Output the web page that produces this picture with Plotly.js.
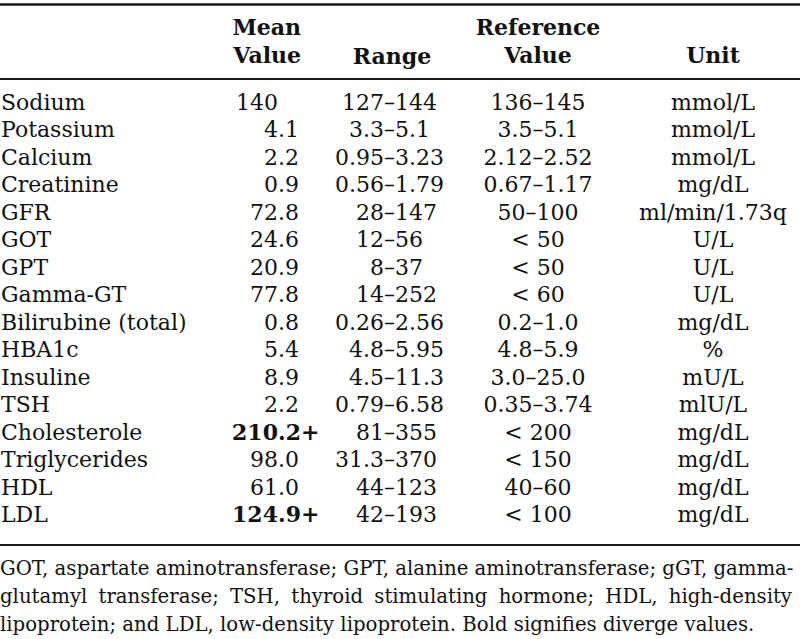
<!DOCTYPE html>
<html>
<head>
<meta charset="utf-8">
<script src="https://cdn.plot.ly/plotly-3.0.1.min.js"></script>
<style>
  html, body { margin: 0; padding: 0; background: #ffffff; }
  #chart { width: 800px; height: 639px; }
</style>
</head>
<body>
<div id="chart"></div>
<script>
// ---------------- data ----------------
const parameters = ["Sodium", "Potassium", "Calcium", "Creatinine", "GFR", "GOT", "GPT", "Gamma-GT",
  "Bilirubine (total)", "HBA1c", "Insuline", "TSH", "Cholesterole", "Triglycerides", "HDL", "LDL"];
const meanValues = ["140", "4.1", "2.2", "0.9", "72.8", "24.6", "20.9", "77.8",
  "0.8", "5.4", "8.9", "2.2", "210.2+", "98.0", "61.0", "124.9+"];
const rangeLow = ["127", "3.3", "0.95", "0.56", "28", "12", "8", "14",
  "0.26", "4.8", "4.5", "0.79", "81", "31.3", "44", "42"];
const rangeHigh = ["144", "5.1", "3.23", "1.79", "147", "56", "37", "252",
  "2.56", "5.95", "11.3", "6.58", "355", "370", "123", "193"];
const referenceValues = ["136–145", "3.5–5.1", "2.12–2.52", "0.67–1.17", "50–100", "< 50", "< 50", "< 60",
  "0.2–1.0", "4.8–5.9", "3.0–25.0", "0.35–3.74", "< 200", "< 150", "40–60", "< 100"];
const units = ["mmol/L", "mmol/L", "mmol/L", "mg/dL", "ml/min/1.73q", "U/L", "U/L", "U/L",
  "mg/dL", "%", "mU/L", "mlU/L", "mg/dL", "mg/dL", "mg/dL", "mg/dL"];
const headerLine1 = ["Mean", "Reference"];
const headerLine2 = ["Value", "Range", "Value", "Unit"];
const footnoteLines = [
  "GOT, aspartate aminotransferase; GPT, alanine aminotransferase; gGT, gamma-",
  "glutamyl transferase; TSH, thyroid stimulating hormone; HDL, high-density",
  "lipoprotein; and LDL, low-density lipoprotein. Bold signifies diverge values."
];

// ---------------- layout constants ----------------
const W = 800, H = 639;
const ROW0_PX = 104, ROW_H = 27.5;         // pixel centre of first row, row pitch
const pxToRow = p => (p - ROW0_PX) / ROW_H;
const X_LABEL = 1, X_DEC = 278, X_DASH = 395, X_REF = 538, X_UNIT = 713, X_MEAN_HDR = 301;
const FONT = "DejaVu Serif";
const FS = 22, FS_NOTE = 19.7;
const INK = "#111111";

const rows = parameters.map((_, i) => i);
const divergent = meanValues.map(v => v.endsWith("+"));
const intPart = meanValues.map(v => v.split(".")[0]);
const fracPart = meanValues.map(v => v.includes(".") ? "." + v.split(".")[1] : "");
const bold = (s, b) => b ? "<b>" + s + "</b>" : s;

function textTrace(xs, ys, texts, pos, size) {
  return {
    type: "scatter", mode: "text", x: xs, y: ys, text: texts,
    textposition: pos, hoverinfo: "skip", showlegend: false, cliponaxis: false,
    textfont: { family: FONT, size: size || FS, color: INK }
  };
}
const col = x => rows.map(() => x);

const traces = [
  textTrace(col(X_LABEL), rows, parameters, "middle right"),
  textTrace(col(X_DEC), rows, intPart.map((s, i) => bold(s, divergent[i])), "middle left"),
  textTrace(col(X_DEC), rows, fracPart.map((s, i) => bold(s, divergent[i])), "middle right"),
  textTrace(col(X_DASH), rows, rangeLow.map(s => s + "–"), "middle left"),
  textTrace(col(X_DASH), rows, rangeHigh, "middle right"),
  textTrace(col(X_REF), rows, referenceValues, "middle center"),
  textTrace(col(X_UNIT), rows, units, "middle center"),
  // header
  textTrace([X_MEAN_HDR], [pxToRow(29)], ["<b>" + headerLine1[0] + "</b>"], "middle left"),
  textTrace([X_REF], [pxToRow(29)], ["<b>" + headerLine1[1] + "</b>"], "middle center"),
  textTrace([X_MEAN_HDR], [pxToRow(57)], ["<b>" + headerLine2[0] + "</b>"], "middle left"),
  textTrace([392], [pxToRow(58)], ["<b>" + headerLine2[1] + "</b>"], "middle center"),
  textTrace([X_REF], [pxToRow(57)], ["<b>" + headerLine2[2] + "</b>"], "middle center"),
  textTrace([X_UNIT], [pxToRow(57)], ["<b>" + headerLine2[3] + "</b>"], "middle center")
];

// footnote lines (line 2 justified with wider non-collapsing spaces)
const GAP = "\u00A0\u2005";
const footTexts = footnoteLines.map((l, i) => i === 1 ? l.split(" ").join(GAP) : l);
const footY = [570, 598, 626].map(pxToRow);
traces.push(textTrace([0, 0, 0], footY, footTexts, "middle right", FS_NOTE));

const rule = (px, w) => ({
  type: "line", xref: "paper", x0: 0, x1: 1, yref: "y", y0: pxToRow(px), y1: pxToRow(px),
  line: { color: "#1a1a1a", width: w }
});

const layout = {
  width: W, height: H,
  margin: { l: 0, r: 0, t: 0, b: 0, pad: 0 },
  paper_bgcolor: "#ffffff", plot_bgcolor: "#ffffff",
  showlegend: false,
  xaxis: { range: [0, W], visible: false, fixedrange: true },
  yaxis: { range: [pxToRow(H), pxToRow(0)], visible: false, fixedrange: true },
  shapes: [rule(4.5, 2.5), rule(79, 2), rule(545, 2)]
};

Plotly.newPlot("chart", traces, layout, { displayModeBar: false, staticPlot: true });
</script>
</body>
</html>
